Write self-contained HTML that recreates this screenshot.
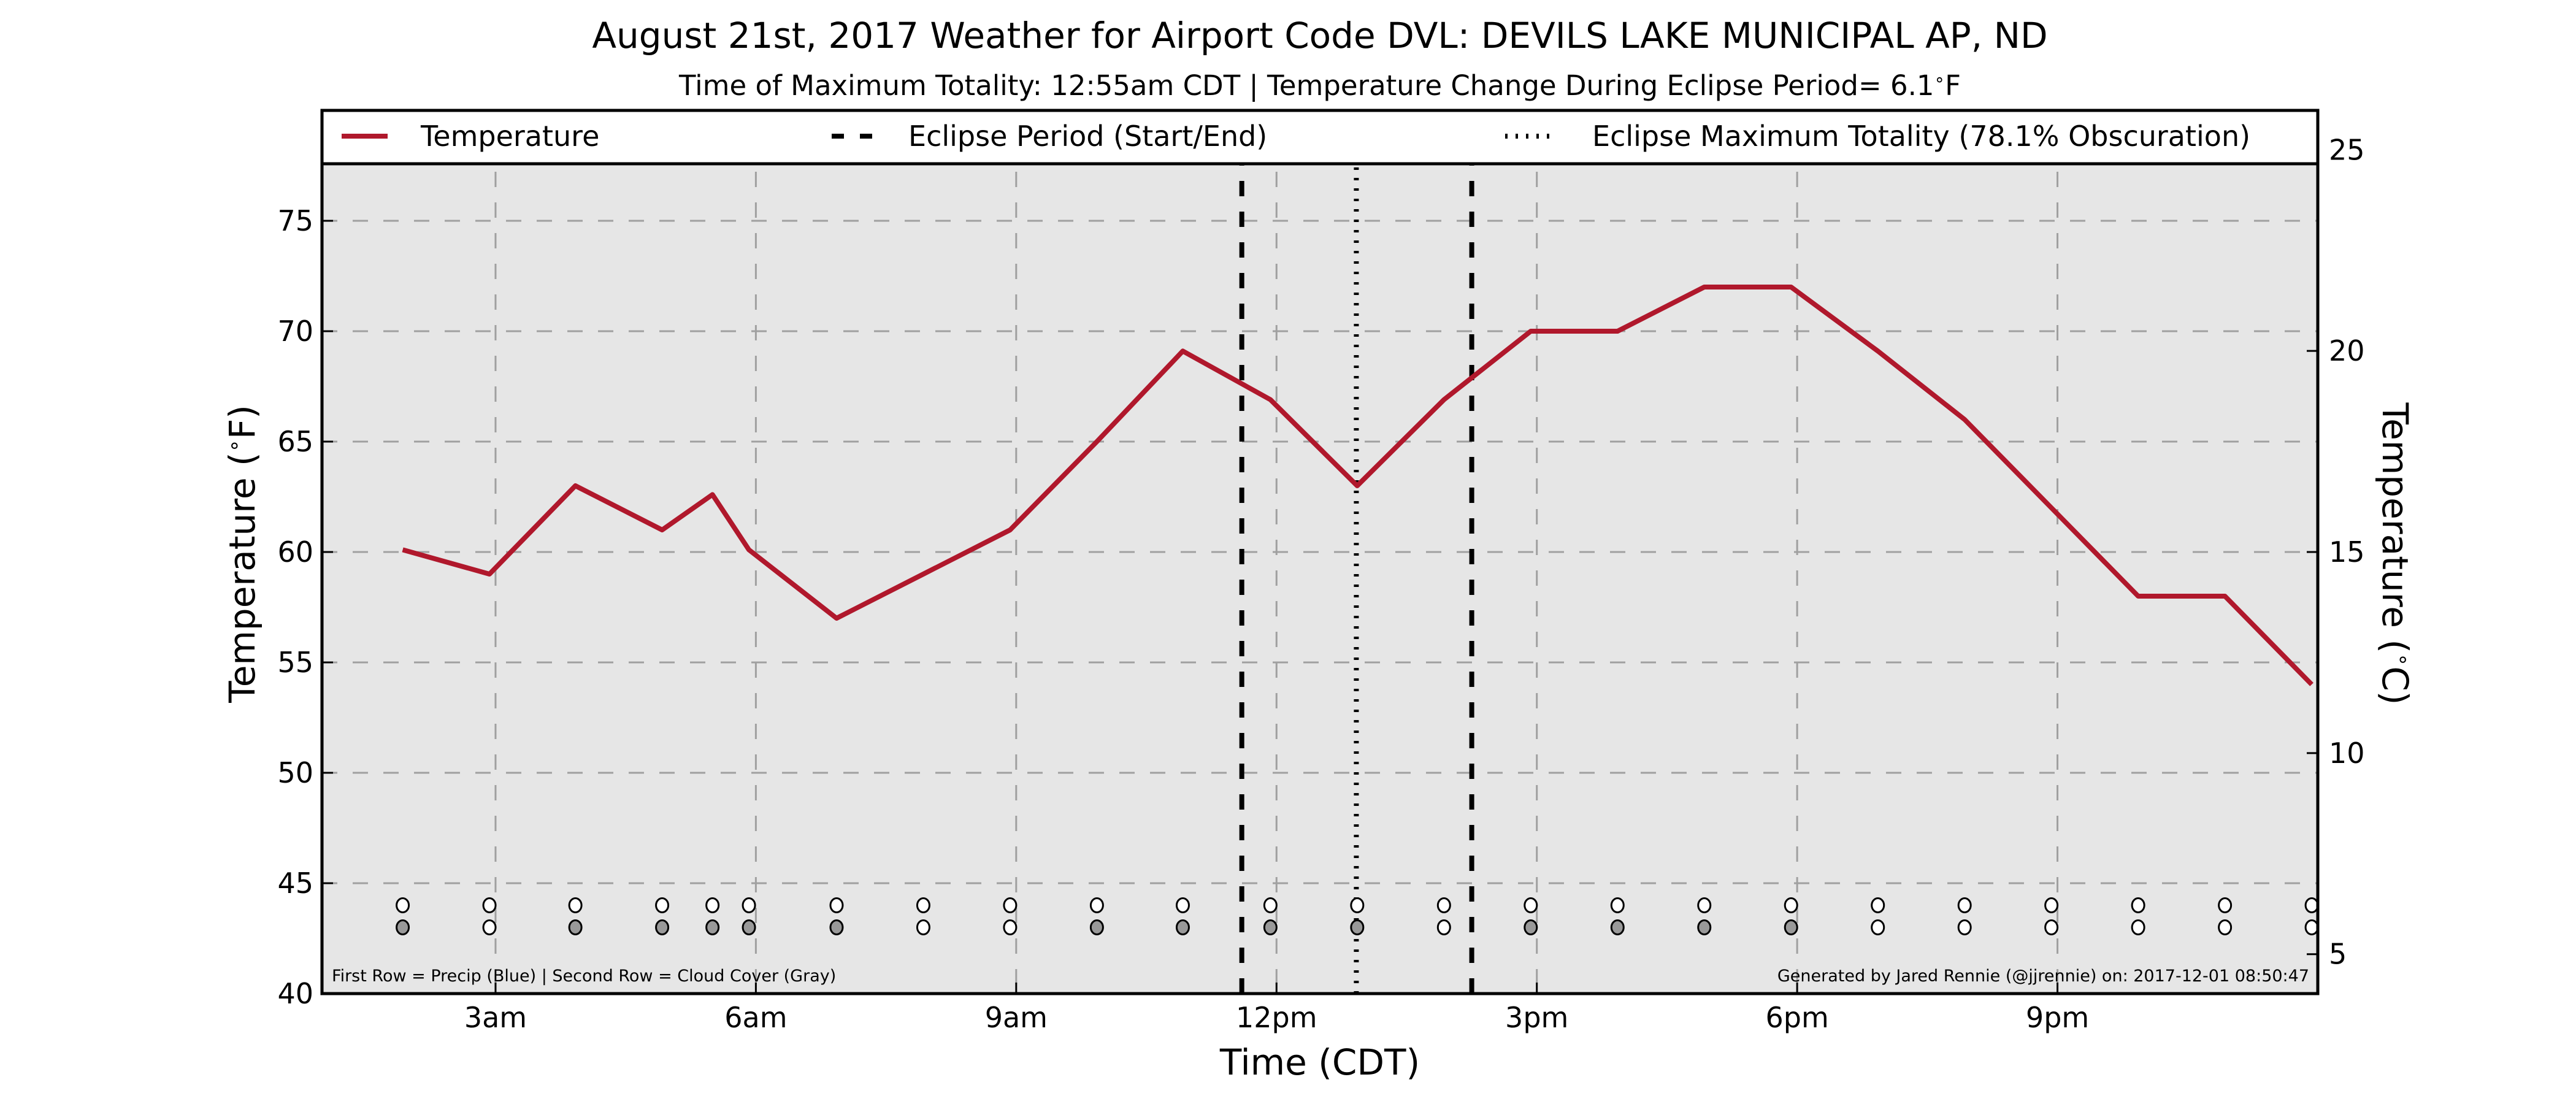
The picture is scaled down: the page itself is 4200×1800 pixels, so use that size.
<!DOCTYPE html>
<html><head><meta charset="utf-8"><style>
html,body{margin:0;padding:0;background:#fff;}
svg{display:block;font-family:"DejaVu Sans","Liberation Sans",sans-serif;}
</style></head><body>
<svg id="chart" width="4200" height="1800" viewBox="0 0 4200 1800" xmlns="http://www.w3.org/2000/svg">
<text x="2152" y="78" font-size="58" text-anchor="middle">August 21st, 2017 Weather for Airport Code DVL: DEVILS LAKE MUNICIPAL AP, ND</text>
<text x="2152" y="155" font-size="45" text-anchor="middle">Time of Maximum Totality: 12:55am CDT | Temperature Change During Eclipse Period= 6.1<tspan font-size="28" dy="-16">∘</tspan><tspan dy="16">F</tspan></text>
<rect x="525" y="180" width="3254" height="1440" fill="#e6e6e6"/>
<g id="grid"></g>
<g id="marks"></g>
<g id="axes"></g>
<g>
<rect x="525" y="180" width="3254" height="87" fill="#fff" stroke="#000" stroke-width="5"/>
<line x1="557" y1="222" x2="632" y2="222" stroke="#b0182c" stroke-width="8"/>
<text x="686" y="238" font-size="46">Temperature</text>
<line x1="1356" y1="222" x2="1425" y2="222" stroke="#000" stroke-width="8" stroke-dasharray="20,26"/>
<text x="1481" y="238" font-size="46">Eclipse Period (Start/End)</text>
<line x1="2454" y1="222" x2="2534" y2="222" stroke="#000" stroke-width="8" stroke-dasharray="4,13"/>
<text x="2596" y="238" font-size="46">Eclipse Maximum Totality (78.1% Obscuration)</text>
</g>
<text x="541" y="1600" font-size="27">First Row = Precip (Blue) | Second Row = Cloud Cover (Gray)</text>
<text x="3765" y="1600" font-size="27" text-anchor="end">Generated by Jared Rennie (@jjrennie) on: 2017-12-01 08:50:47</text>
<text x="2152" y="1752" font-size="58" text-anchor="middle">Time (CDT)</text>
<text transform="translate(415,903) rotate(-90)" font-size="58" text-anchor="middle">Temperature (<tspan font-size="34" dy="-22">∘</tspan><tspan dy="22">F)</tspan></text>
<text transform="translate(3885,903) rotate(90)" font-size="58" text-anchor="middle">Temperature (<tspan font-size="34" dy="-22">∘</tspan><tspan dy="22">C)</tspan></text>
</svg>
<script>
const hours = [1.93,2.93,3.92,4.92,5.5,5.92,6.93,7.93,8.93,9.93,10.92,11.93,12.93,13.93,14.93,15.93,16.93,17.93,18.93,19.93,20.93,21.93,22.93,23.93];
const tempsF = [60.1,59.0,63.0,61.0,62.6,60.1,57.0,59.0,61.0,65.0,69.1,66.9,63.0,66.9,70.0,70.0,72.0,72.0,69.1,66.0,62.0,58.0,58.0,54.0];
const cloudGray = [1,0,1,1,1,1,1,0,0,1,1,1,1,0,1,1,1,1,0,0,0,0,0,0];
const precipRowF = 44.0;
const cloudRowF = 43.0;
const eclipseStart = 11.6;
const eclipseMax = 12.92;
const eclipseEnd = 14.25;
const xTickHours = [3,6,9,12,15,18,21];
const xTickLabels = ["3am","6am","9am","12pm","3pm","6pm","9pm"];
const yTicksF = [40,45,50,55,60,65,70,75];
const yTicksC = [5,10,15,20,25];

const L=525,R=3779,T=180,B=1620;
const xMin=1,xMax=24,yMin=40,yMax=80,cMin=4.02,cMax=25.98;
const X=h=>L+(h-xMin)/(xMax-xMin)*(R-L);
const Y=f=>B-(f-yMin)/(yMax-yMin)*(B-T);
const YC=c=>B-(c-cMin)/(cMax-cMin)*(B-T);
const NS="http://www.w3.org/2000/svg";
function mk(tag,attrs,parent){const e=document.createElementNS(NS,tag);for(const k in attrs)e.setAttribute(k,attrs[k]);parent.appendChild(e);return e;}
const grid=document.getElementById('grid'),marks=document.getElementById('marks'),axes=document.getElementById('axes');

yTicksF.forEach(f=>{if(f===40)return;
 const g=mk('line',{x1:L,x2:R,y1:Y(f),y2:Y(f),stroke:'#a0a0a0','stroke-width':3,'stroke-dasharray':'25,25'},grid);
 
 
});
xTickHours.forEach(h=>{
 const g=mk('line',{x1:X(h),x2:X(h),y1:T,y2:B,stroke:'#a0a0a0','stroke-width':3,'stroke-dasharray':'25,25'},grid);
 
 
});

[[eclipseStart,'eclipse-start-line'],[eclipseEnd,'eclipse-end-line']].forEach(([h,n])=>{
 const l=mk('line',{x1:X(h),x2:X(h),y1:B,y2:T,stroke:'#000','stroke-width':8,'stroke-dasharray':'25,25'},marks);
 
 
});
const dl=mk('line',{x1:X(eclipseMax),x2:X(eclipseMax),y1:B,y2:T,stroke:'#000','stroke-width':8,'stroke-dasharray':'4,13'},marks);



const pts=hours.map((h,i)=>X(h)+','+Y(tempsF[i])).join(' ');
const pl=mk('polyline',{points:pts,fill:'none',stroke:'#b0182c','stroke-width':8,'stroke-linejoin':'round'},marks);



hours.forEach((h,i)=>{
 const p=mk('ellipse',{cx:X(h),cy:Y(precipRowF),rx:10,ry:11.5,fill:'#fff',stroke:'#000','stroke-width':3},marks);
 
 
 const c=mk('ellipse',{cx:X(h),cy:Y(cloudRowF),rx:10,ry:11.5,fill:cloudGray[i]?'#999':'#fff',stroke:'#000','stroke-width':3},marks);
 
 
});

const fr=mk('rect',{x:L,y:T,width:R-L,height:B-T,fill:'none',stroke:'#000','stroke-width':5},axes);


yTicksF.forEach(f=>{
 mk('line',{x1:L,x2:L+18,y1:Y(f),y2:Y(f),stroke:'#000','stroke-width':3},axes);
 const t=mk('text',{x:L-14,y:Y(f)+16,'font-size':46,'text-anchor':'end'},axes);
 t.textContent=f;
 
 
});
yTicksC.forEach(c=>{
 mk('line',{x1:R-18,x2:R,y1:YC(c),y2:YC(c),stroke:'#000','stroke-width':3},axes);
 const t=mk('text',{x:R+18,y:YC(c)+16,'font-size':46},axes);
 t.textContent=c;
 
 
});
xTickHours.forEach((h,i)=>{
 mk('line',{x1:X(h),x2:X(h),y1:B,y2:B-18,stroke:'#000','stroke-width':3},axes);
 const t=mk('text',{x:X(h),y:1675,'font-size':46,'text-anchor':'middle'},axes);
 t.textContent=xTickLabels[i];
 
 
});
</script>
</body></html>
